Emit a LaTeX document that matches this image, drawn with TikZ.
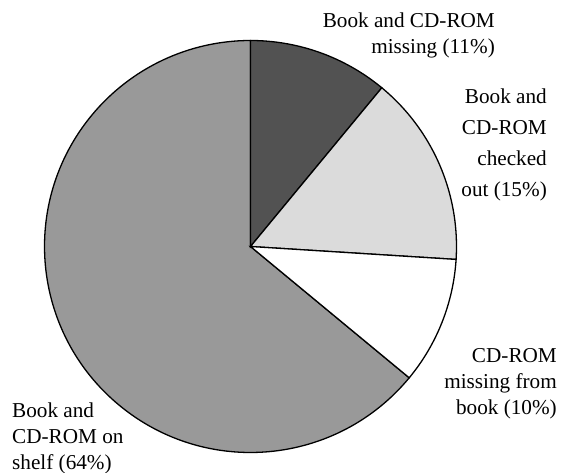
\documentclass[tikz,border=0pt]{standalone}
\usepackage{fontspec}
\setmainfont{Liberation Serif}
\definecolor{darkslice}{gray}{0.32}
\definecolor{lightslice}{gray}{0.86}
\definecolor{shelfslice}{gray}{0.60}
\tikzset{
  slice/.style={draw=black, line width=1.3pt, line join=miter},
  lbl/.style={inner sep=0pt, font=\fontsize{21.2}{26}\selectfont},
  lblwide/.style={inner sep=0pt, font=\fontsize{21.2}{31}\selectfont}
}
\begin{document}
\begin{tikzpicture}[x=1pt,y=1pt]
\useasboundingbox (0,0) rectangle (564,473);
\coordinate (c) at (250.5,226.5);
\def\R{206}
% shelf 64%
\filldraw[slice, fill=shelfslice] (c) -- ++(-39.6:\R) arc[start angle=-39.6, end angle=-270, radius=\R] -- cycle;
% missing 11%
\filldraw[slice, fill=darkslice] (c) -- ++(90:\R) arc[start angle=90, end angle=50.4, radius=\R] -- cycle;
% checked out 15%
\filldraw[slice, fill=lightslice] (c) -- ++(50.4:\R) arc[start angle=50.4, end angle=-3.6, radius=\R] -- cycle;
% CD-ROM missing 10%
\filldraw[slice, fill=white] (c) -- ++(-3.6:\R) arc[start angle=-3.6, end angle=-39.6, radius=\R] -- cycle;

\node[lbl, align=right, anchor=north east] (l1) at (495,460) {Book and CD-ROM\\missing (11\%)};
\node[lblwide, align=right, anchor=north east] (l2) at (547,384) {Book and\\CD-ROM\\checked\\out (15\%)};
\node[lbl, align=right, anchor=north east] (l3) at (557,125) {CD-ROM\\missing from\\book (10\%)};
\node[lbl, align=left, anchor=north west] (l4) at (12,70) {Book and\\CD-ROM on\\shelf (64\%)};
\end{tikzpicture}
\end{document}
